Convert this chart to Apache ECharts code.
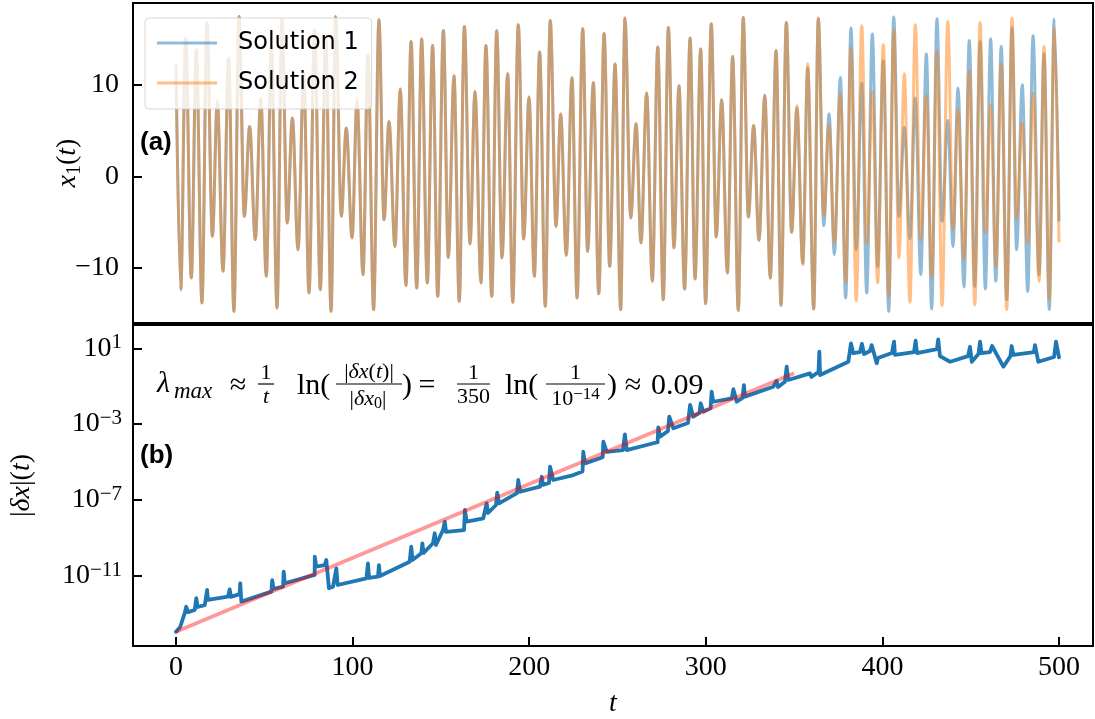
<!DOCTYPE html>
<html>
<head>
<meta charset="utf-8">
<script src="https://cdn.jsdelivr.net/npm/echarts@6/dist/echarts.min.js"></script>
<style>html,body{margin:0;padding:0;background:#fff}#c{width:1095px;height:719px}</style>
</head>
<body>
<div id="c"></div>
<script>
// ---------- DATA ----------
// (a) times of the local extrema of x1(t)
const tExtrema = [
  0, 2.66, 5.49, 8.66, 11.5, 14.7, 17.55, 20.6, 23.4, 26.6,
  29.8, 32.8, 35.7, 38.7, 41.7, 44.9, 48.0, 51.1, 54.0, 57.2,
  60.0, 63.0, 65.9, 69.1, 72.3, 75.3, 78.5, 81.7, 84.8, 87.8,
  90.4, 93.6, 96.4, 99.7, 102.5, 105.9, 108.7, 111.9, 114.9, 117.8,
  120.6, 124.0, 127.0, 130.2, 133.1, 136.3, 139.1, 142.3, 145.3, 148.2,
  151.4, 154.2, 157.4, 160.4, 163.3, 166.5, 169.3, 172.7, 175.5, 178.8,
  181.6, 184.6, 187.8, 190.7, 193.8, 196.9, 199.9, 202.9, 205.9, 209.1,
  211.9, 215.2, 217.8, 221.0, 224.2, 227.1, 230.3, 233.1, 236.3, 239.4,
  242.4, 245.6, 248.6, 251.8, 254.2, 257.5, 260.5, 263.3, 266.5, 269.7,
  272.8, 275.9, 278.8, 282.0, 284.8, 288.0, 291.1, 293.9, 297.1, 299.9,
  303.1, 305.9, 309.0, 312.2, 315.2, 318.4, 321.2, 324.1, 327.1, 330.1,
  333.4, 336.5, 339.8, 342.6, 345.6, 348.6, 351.6, 354.9, 357.7, 361.1,
  363.7, 366.8, 369.8, 372.8, 376.2, 379.2, 382.2, 385.2, 388.3, 391.1,
  394.3, 397.3, 400.5, 403.6, 406.4, 409.4, 412.4, 415.6, 418.6, 421.7,
  424.9, 427.9, 430.9, 433.8, 437.0, 440.0, 442.8, 446.2, 449.2, 452.3,
  455.3, 458.3, 461.3, 464.2, 467.3, 470.4, 473.4, 476.0, 479.2, 482.3,
  485.3, 488.7, 491.5, 494.5, 497.3, 500.0
];
// (a) x1 values of Solution 1 at those times
const solution1 = [
  12.19, -12.36, 15.10, -11.08, 13.82, -13.81, 16.73, -6.55, 8.18, -10.36,
  12.91, -14.73, 17.45, -4.36, 5.45, -6.91, 8.55, -10.91, 14.18, -14.36,
  17.09, -5.08, 6.37, -8.0, 11.28, -12.72, 16.0, -12.36, 14.91, -14.73,
  17.45, -4.36, 5.28, -6.72, 8.37, -10.72, 13.28, -14.54, 17.09, -4.72,
  6.0, -7.64, 9.53, -11.92, 14.73, -12.17, 14.99, -11.63, 14.29, -13.09,
  15.93, -8.84, 10.99, -13.64, 16.36, -7.37, 9.27, -11.63, 14.29, -13.09,
  15.89, -8.9, 11.2, -13.74, 16.55, -6.83, 8.66, -10.91, 13.57, -14.18,
  17.02, -5.45, 6.81, -8.62, 10.77, -13.27, 16.11, -8.18, 10.25, -12.8,
  15.6, -9.82, 12.26, -14.54, 17.28, -4.54, 5.75, -7.27, 9.1, -11.45,
  14.12, -13.45, 16.25, -7.81, 9.89, -12.28, 15.1, -11.19, 13.9, -13.89,
  16.66, -6.61, 8.37, -10.54, 13.09, -14.62, 17.35, -4.43, 5.56, -6.98,
  8.84, -11.08, 13.75, -14.1, 16.8, -6.11, 7.46, -9.45, 11.83, -14.47,
  17.2, -5.38, 6.84, -8.54, 10.8, -13.27, 16.19, -8.0, 10.19, -12.72,
  15.53, -9.82, 12.62, -14.73, 17.39, -4.36, 5.35, -6.83, 8.55, -10.72,
  13.35, -14.47, 17.2, -4.91, 6.11, -7.64, 9.64, -12.07, 14.84, -12.0,
  14.73, -12.28, 15.02, -11.45, 14.18, -13.45, 16.19, -8.0, 10.0, -12.55,
  15.35, -10.72, 13.39, -14.54, 17.17, -4.91
];
// (a) x1 values of Solution 2 at those times
const solution2 = [
  12.19, -12.36, 15.10, -11.08, 13.82, -13.81, 16.73, -6.55, 8.18, -10.36,
  12.91, -14.73, 17.45, -4.36, 5.45, -6.91, 8.55, -10.91, 14.18, -14.36,
  17.09, -5.08, 6.37, -8.0, 11.28, -12.72, 16.0, -12.36, 14.91, -14.73,
  17.45, -4.36, 5.28, -6.72, 8.37, -10.72, 13.28, -14.54, 17.09, -4.72,
  6.0, -7.64, 9.53, -11.92, 14.73, -12.17, 14.99, -11.63, 14.29, -13.09,
  15.93, -8.84, 10.99, -13.64, 16.36, -7.37, 9.27, -11.63, 14.29, -13.09,
  15.89, -8.9, 11.2, -13.74, 16.55, -6.83, 8.66, -10.91, 13.57, -14.18,
  17.02, -5.45, 6.81, -8.62, 10.77, -13.27, 16.11, -8.18, 10.25, -12.8,
  15.6, -9.82, 12.26, -14.54, 17.28, -4.54, 5.75, -7.27, 9.1, -11.45,
  14.12, -13.45, 16.25, -7.81, 9.89, -12.28, 15.1, -11.19, 13.9, -13.89,
  16.66, -6.61, 8.37, -10.54, 13.09, -14.62, 17.35, -4.43, 5.56, -6.98,
  8.84, -11.08, 13.75, -14.0, 16.8, -6.11, 7.71, -9.63, 12.26, -14.47,
  17.3, -4.36, 5.64, -7.2, 8.99, -11.56, 14.0, -13.56, 16.44, -7.34,
  9.27, -11.63, 14.37, -13.09, 15.93, -8.9, 11.2, -13.74, 16.55, -6.91,
  8.8, -11.08, 13.64, -14.1, 16.91, -5.81, 7.28, -9.09, 11.56, -14.0,
  16.8, -6.17, 7.82, -9.82, 12.29, -14.54, 17.28, -4.54, 5.82, -7.27,
  9.1, -11.45, 14.18, -13.45, 16.25, -7.2
];
// (b) times and log10 |dx|(t)
const tDelta = [
  0, 2.3, 4.9, 5.8, 6.8, 10.6, 11.5, 12.2, 16.3, 17.6,
  18.1, 29.4, 30.4, 31.1, 36.0, 36.4, 37.0, 54.0, 54.5, 55.2,
  60.6, 61.0, 61.6, 78.5, 78.6, 79.4, 84.2, 85.1, 86.6, 88.9,
  90.8, 91.5, 107.8, 108.7, 109.3, 114.4, 114.9, 115.5, 132.3, 133.2,
  133.9, 138.9, 139.5, 140.2, 145.5, 146.5, 147.2, 151.2, 152.2, 152.9,
  163.1, 163.6, 164.6, 174.0, 175.9, 176.7, 181.2, 181.9, 182.9, 193.1,
  193.8, 194.8, 206.1, 207.1, 207.8, 211.2, 211.8, 213.6, 225.0, 230.2,
  230.6, 231.6, 240.1, 241.6, 242.0, 243.9, 253.1, 254.2, 255.2, 270.3,
  272.7, 273.1, 274.1, 278.6, 279.3, 281.6, 289.9, 291.1, 292.9, 296.4,
  297.1, 298.6, 302.7, 303.3, 304.2, 314.7, 315.6, 317.5, 320.8, 321.6,
  322.2, 338.2, 340.1, 340.9, 344.8, 345.8, 346.7, 359.0, 359.8, 363.8,
  364.3, 364.7, 380.7, 382.2, 383.5, 387.3, 388.4, 389.6, 393.0, 393.9,
  396.8, 397.5, 405.4, 406.6, 407.1, 417.9, 418.8, 419.6, 430.9, 431.6,
  432.6, 438.3, 448.5, 449.6, 450.6, 454.4, 455.3, 456.1, 460.9, 462.1,
  468.5, 472.5, 473.2, 474.1, 485.8, 486.4, 488.3, 497.2, 498.3, 500.0
];
const log10Delta = [
  -13.96, -13.72, -12.98, -12.64, -12.92, -12.81, -12.19, -12.65, -12.55, -11.75,
  -12.28, -12.11, -11.72, -12.12, -11.97, -11.40, -12.37, -11.84, -11.23, -11.70,
  -11.58, -10.79, -11.40, -10.96, -10.00, -10.52, -10.44, -10.17, -11.66, -11.58,
  -10.61, -11.49, -11.14, -10.35, -11.12, -11.05, -10.44, -11.02, -10.26, -9.47,
  -10.17, -9.82, -9.29, -9.80, -9.29, -8.76, -9.38, -8.59, -8.15, -8.69,
  -8.59, -7.53, -8.15, -7.97, -7.18, -7.69, -7.27, -6.62, -7.18, -6.64,
  -5.95, -6.57, -6.30, -5.78, -6.21, -6.11, -5.25, -5.95, -5.69, -5.5,
  -4.46, -5.07, -4.80, -4.75, -3.93, -4.46, -4.37, -3.54, -4.37, -4.01,
  -3.95, -3.17, -3.66, -3.36, -2.61, -3.22, -2.94, -1.99, -2.61, -2.41,
  -1.90, -2.35, -2.17, -1.29, -1.82, -1.64, -1.16, -1.82, -1.62, -0.94,
  -1.55, -1.03, -0.72, -1.04, -0.76, 0.03, -0.67, -0.32, -0.51, -0.25,
  0.82, -0.41, 0.29, 1.26, 0.74, 0.80, 1.23, 0.70, 0.86, 1.17,
  0.21, 0.49, 0.75, 1.35, 0.65, 0.80, 1.40, 0.75, 0.96, 1.47,
  0.59, 0.29, 0.59, 1.08, 0.29, 0.70, 1.35, 0.74, 0.80, 1.12,
  0.03, 0.59, 1.12, 0.65, 0.80, 1.17, 0.29, 0.54, 1.35, 0.52
];
// (b) exponential-growth fit line (end points)
const tFit = [0, 350];
const log10Fit = [-13.96, -0.32];
// tick values
const tTicks = [0, 100, 200, 300, 400, 500];
const x1Ticks = [-10, 0, 10];
const logTicks = [-11, -7, -3, 1];
const seriesNames = ['Solution 1', 'Solution 2'];

// ---------- CHART ----------
const SERIF = '"Liberation Serif", "DejaVu Serif", serif';
const MINUS = '\u2212';
const fmtNum = v => (v < 0 ? MINUS + Math.abs(v) : String(v));
const chart = echarts.init(document.getElementById('c'), null, { renderer: 'canvas' });

const gridCommon = { left: 133, width: 960, show: true, borderColor: '#000', borderWidth: 2,
  backgroundColor: 'transparent', containLabel: false, outerBoundsMode: 'none' };
const tickStyle = { show: true, inside: true, length: 9, lineStyle: { color: '#000', width: 2 } };
const axisLineStyle = { show: true, onZero: false, lineStyle: { color: '#000', width: 2 } };

function T(x, y, text, extra) {
  return { type: 'text', x: x, y: y, silent: true, z: 100,
    style: Object.assign({ text: text, fill: '#000', fontFamily: SERIF, fontSize: 30,
      align: 'left', verticalAlign: 'middle' }, extra || {}) };
}
function bar(x1, x2, y) {
  return { type: 'line', silent: true, z: 100, shape: { x1: x1, y1: y, x2: x2, y2: y },
    style: { stroke: '#000', lineWidth: 1.2 } };
}
const FR = 22;
const richS = {
  u: { fontFamily: SERIF, fontSize: FR, lineHeight: 26 },
  i: { fontFamily: SERIF, fontSize: FR, fontStyle: 'italic', lineHeight: 26 },
  sub: { fontFamily: SERIF, fontSize: 16, lineHeight: 16, verticalAlign: 'bottom' },
  sup: { fontFamily: SERIF, fontSize: 17, lineHeight: 17, verticalAlign: 'top' }
};

const option = {
  animation: false,
  backgroundColor: '#fff',
  textStyle: { fontFamily: SERIF },
  grid: [
    Object.assign({ top: 3, height: 320 }, gridCommon),
    Object.assign({ top: 325, height: 321 }, gridCommon)
  ],
  xAxis: [
    { type: 'value', gridIndex: 0, min: -24.35, max: 519.25,
      axisLine: axisLineStyle, axisTick: { show: false }, axisLabel: { show: false }, splitLine: { show: false } },
    { type: 'value', gridIndex: 1, min: -24.35, max: 519.25,
      axisLine: axisLineStyle, splitLine: { show: false },
      axisTick: Object.assign({ customValues: tTicks }, tickStyle),
      axisLabel: { customValues: tTicks, color: '#000', fontFamily: SERIF, fontSize: 28, margin: 8,
        formatter: v => fmtNum(v) },
      name: 't', nameLocation: 'middle', nameGap: 44, nameMoveOverlap: false,
      nameTextStyle: { color: '#000', fontFamily: SERIF, fontStyle: 'italic', fontSize: 28 } }
  ],
  yAxis: [
    { type: 'value', gridIndex: 0, min: -16.0, max: 18.92,
      axisLine: axisLineStyle, splitLine: { show: false },
      axisTick: Object.assign({ customValues: x1Ticks }, tickStyle),
      axisLabel: { customValues: x1Ticks, color: '#000', fontFamily: SERIF, fontSize: 28, margin: 14,
        formatter: v => fmtNum(v) },
      name: '{i|x}{s|1}{n|(}{i|t}{n|)}', nameLocation: 'middle', nameRotate: 90, nameGap: 48,
      nameMoveOverlap: false,
      nameTextStyle: { color: '#000', rich: {
        i: { fontFamily: SERIF, fontStyle: 'italic', fontSize: 28, lineHeight: 34 },
        n: { fontFamily: SERIF, fontSize: 28, lineHeight: 34 },
        s: { fontFamily: SERIF, fontSize: 20, lineHeight: 20, verticalAlign: 'bottom' } } } },
    { type: 'value', gridIndex: 1, min: -14.71, max: 2.23,
      axisLine: axisLineStyle, splitLine: { show: false },
      axisTick: Object.assign({ customValues: logTicks }, tickStyle),
      axisLabel: { customValues: logTicks, color: '#000', margin: 11,
        formatter: v => '{b|10}{s|' + fmtNum(v) + '}',
        rich: {
          b: { fontFamily: SERIF, fontSize: 28, lineHeight: 32, color: '#000' },
          s: { fontFamily: SERIF, fontSize: 21, lineHeight: 21, verticalAlign: 'top', color: '#000' } } },
      name: '{n||}{i|δx}{n||(}{i|t}{n|)}', nameLocation: 'middle', nameRotate: 90, nameGap: 94,
      nameMoveOverlap: false,
      nameTextStyle: { color: '#000', rich: {
        i: { fontFamily: SERIF, fontStyle: 'italic', fontSize: 28, lineHeight: 34 },
        n: { fontFamily: SERIF, fontSize: 28, lineHeight: 34 } } } }
  ],
  legend: {
    orient: 'vertical', left: 145, top: 18, padding: [13, 13, 14, 12], itemGap: 16,
    itemWidth: 60, itemHeight: 3, icon: 'rect',
    backgroundColor: 'rgba(255,255,255,0.8)', borderColor: 'rgba(204,204,204,0.8)', borderWidth: 1, borderRadius: 4,
    textStyle: { fontFamily: '"DejaVu Sans", sans-serif', fontSize: 24, color: '#000', padding: [0, 0, 0, 16] },
    selectedMode: false,
    data: [
      { name: seriesNames[0], itemStyle: { color: 'rgba(31,119,180,0.5)' } },
      { name: seriesNames[1], itemStyle: { color: 'rgba(255,127,14,0.5)' } }
    ]
  },
  series: [
    { type: 'line', name: seriesNames[0], xAxisIndex: 0, yAxisIndex: 0,
      data: tExtrema.map((t, i) => [t, solution1[i]]),
      smooth: 0.35, smoothMonotone: 'x', showSymbol: false, symbol: 'none', silent: true,
      itemStyle: { color: '#1f77b4' }, lineStyle: { color: '#1f77b4', width: 3, opacity: 0.5 } },
    { type: 'line', name: seriesNames[1], xAxisIndex: 0, yAxisIndex: 0,
      data: tExtrema.map((t, i) => [t, solution2[i]]),
      smooth: 0.35, smoothMonotone: 'x', showSymbol: false, symbol: 'none', silent: true,
      itemStyle: { color: '#ff7f0e' }, lineStyle: { color: '#ff7f0e', width: 3, opacity: 0.5 } },
    { type: 'line', name: 'delta', xAxisIndex: 1, yAxisIndex: 1,
      data: tDelta.map((t, i) => [t, log10Delta[i]]),
      showSymbol: false, symbol: 'none', silent: true,
      lineStyle: { color: '#1f77b4', width: 3.8, join: 'round', cap: 'round' } },
    { type: 'line', name: 'fit', xAxisIndex: 1, yAxisIndex: 1,
      data: tFit.map((t, i) => [t, log10Fit[i]]),
      showSymbol: false, symbol: 'none', silent: true,
      lineStyle: { color: 'rgba(255,0,0,0.4)', width: 3.8 } }
  ],
  graphic: [
    T(140, 143, '(a)', { fontFamily: '"Liberation Sans", sans-serif', fontWeight: 'bold', fontSize: 26 }),
    T(140, 456, '(b)', { fontFamily: '"Liberation Sans", sans-serif', fontWeight: 'bold', fontSize: 26 }),
    // formula
    T(157, 384, 'λ', { fontStyle: 'italic' }),
    T(174, 392, 'max', { fontStyle: 'italic', fontSize: 23 }),
    T(238, 386, '≈', { align: 'center' }),
    T(266, 373, '1', { align: 'center', fontSize: FR }),
    bar(258, 274, 384),
    T(266, 397, 't', { align: 'center', fontSize: FR, fontStyle: 'italic' }),
    T(297, 386, 'ln('),
    T(369, 372, '{u||}{i|δx}{u|(}{i|t}{u|)|}', { align: 'center', rich: richS }),
    bar(336, 402, 384),
    T(368, 399, '{u||}{i|δx}{sub|0}{u||}', { align: 'center', rich: richS }),
    T(402, 386, ')'),
    T(427, 386, '=', { align: 'center' }),
    T(473.5, 373, '1', { align: 'center', fontSize: FR }),
    bar(457, 490, 384),
    T(473.5, 397, '350', { align: 'center', fontSize: FR }),
    T(505, 386, 'ln('),
    T(575.5, 373, '1', { align: 'center', fontSize: FR }),
    bar(546, 605, 384),
    T(575.5, 399, '{u|10}{sup|' + MINUS + '14}', { align: 'center', rich: richS }),
    T(607, 386, ')'),
    T(633, 386, '≈', { align: 'center' }),
    T(651, 386, '0.09')
  ]
};
chart.setOption(option);
</script>
</body>
</html>
